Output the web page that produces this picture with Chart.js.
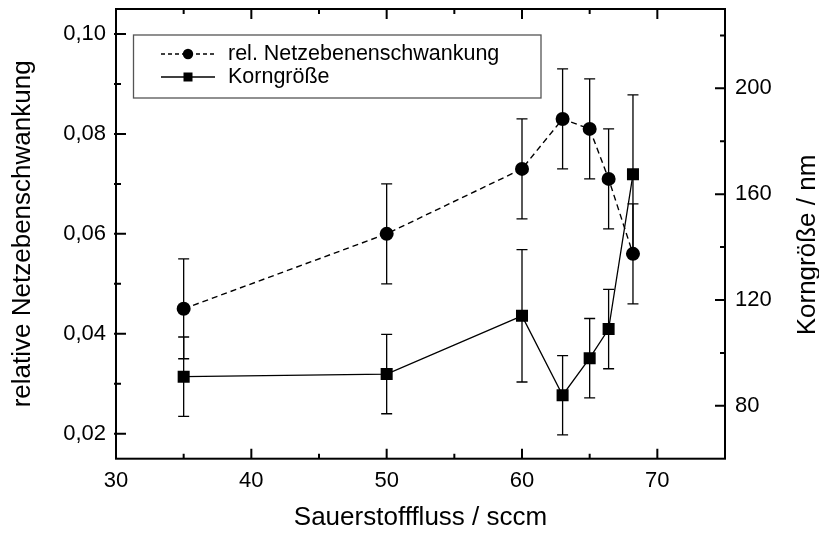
<!DOCTYPE html>
<html lang="de">
<head>
  <meta charset="UTF-8" />
  <title>Netzebenenschwankung & Korngröße</title>
  <script src="https://cdn.jsdelivr.net/npm/chart.js"></script>
  <style>
    body, html { margin: 0; padding: 0; background: #fff; }
    canvas { display: block; }
  </style>
</head>
<body>
  <canvas id="chart" width="819" height="533"></canvas>

  <script>
    // Messwerte
    const flow = [35, 50, 60, 63, 65, 66.4, 68.2];
    const strain = [0.045, 0.060, 0.073, 0.083, 0.081, 0.071, 0.056];
    const strainErr = [0.01, 0.01, 0.01, 0.01, 0.01, 0.01, 0.01];
    const grain = [91, 92, 114, 84, 98, 109, 167.5];
    const grainErr = [15, 15, 25, 15, 15, 15, 30];

    // Achsenteilung
    const xTicks = [30, 40, 50, 60, 70];
    const xMinor = [35, 45, 55, 65];
    const yTicks = [0.02, 0.04, 0.06, 0.08, 0.10];
    const yMinor = [0.03, 0.05, 0.07, 0.09];
    const y2Ticks = [80, 120, 160, 200];
    const y2Minor = [100, 140, 180, 220];

    const FONT = "'Liberation Sans', Arial, sans-serif";
    Chart.defaults.font.family = FONT;
    Chart.defaults.color = '#000';

    // Fehlerbalken unter die Symbole
    const errorBars = {
      id: 'errorBars',
      beforeDatasetsDraw(chart) {
        const { ctx, scales: { x, y, y2 } } = chart;
        ctx.save();
        ctx.strokeStyle = '#000';
        ctx.lineWidth = 1.3;
        const bar = (px, a, b) => {
          ctx.beginPath();
          ctx.moveTo(px, a); ctx.lineTo(px, b);
          ctx.moveTo(px - 5.5, a); ctx.lineTo(px + 5.5, a);
          ctx.moveTo(px - 5.5, b); ctx.lineTo(px + 5.5, b);
          ctx.stroke();
        };
        flow.forEach((f, i) => {
          const px = x.getPixelForValue(f);
          bar(px, y.getPixelForValue(strain[i] - strainErr[i]), y.getPixelForValue(strain[i] + strainErr[i]));
          bar(px, y2.getPixelForValue(grain[i] - grainErr[i]), y2.getPixelForValue(grain[i] + grainErr[i]));
        });
        ctx.restore();
      }
    };

    // Rahmen mit Innen-Ticks, Legende, rechter Achsentitel
    const frame = {
      id: 'frame',
      afterDatasetsDraw(chart) {
        const { ctx, chartArea: a, scales: { x, y, y2 } } = chart;
        ctx.save();
        ctx.strokeStyle = '#000';
        ctx.lineWidth = 2;
        ctx.strokeRect(a.left, a.top, a.right - a.left, a.bottom - a.top);

        ctx.beginPath();
        const xt = (vals, len) => vals.forEach(v => {
          const px = x.getPixelForValue(v);
          ctx.moveTo(px, a.bottom); ctx.lineTo(px, a.bottom - len);
          ctx.moveTo(px, a.top); ctx.lineTo(px, a.top + len);
        });
        xt(xTicks, 10); xt(xMinor, 5);
        const yt = (vals, len) => vals.forEach(v => {
          const py = y.getPixelForValue(v);
          ctx.moveTo(a.left - 2, py); ctx.lineTo(a.left + len, py);
        });
        yt(yTicks, 10); yt(yMinor, 5);
        const y2t = (vals, len) => vals.forEach(v => {
          const py = y2.getPixelForValue(v);
          ctx.moveTo(a.right, py); ctx.lineTo(a.right - len, py);
        });
        y2t(y2Ticks, 10); y2t(y2Minor, 5);
        ctx.stroke();

        // Legende
        const ds = chart.data.datasets;
        ctx.fillStyle = '#fff';
        ctx.fillRect(133.5, 35, 407.5, 63);
        ctx.strokeStyle = '#555';
        ctx.lineWidth = 1.3;
        ctx.strokeRect(133.5, 35, 407.5, 63);
        const rows = [54, 77];
        ctx.strokeStyle = '#000';
        ctx.fillStyle = '#000';
        rows.forEach((ry, i) => {
          ctx.beginPath();
          ctx.setLineDash(i === 0 ? [4, 3] : []);
          ctx.moveTo(161, ry); ctx.lineTo(215, ry);
          ctx.stroke();
          ctx.setLineDash([]);
          if (i === 0) {
            ctx.beginPath();
            ctx.arc(188, ry, 5.2, 0, Math.PI * 2);
            ctx.fill();
          } else {
            ctx.fillRect(183.5, ry - 4.5, 9, 9);
          }
          ctx.font = '21.5px ' + FONT;
          ctx.textBaseline = 'middle';
          ctx.textAlign = 'left';
          ctx.fillText(ds[i].label, 228, ry);
        });

        // rechter Titel, wie links von unten nach oben
        ctx.translate(815, 245);
        ctx.rotate(-Math.PI / 2);
        ctx.font = '26px ' + FONT;
        ctx.textAlign = 'center';
        ctx.textBaseline = 'alphabetic';
        ctx.fillText(chart.options.scales.y2.title.text, 0, 0);
        ctx.restore();
      }
    };

    const fixTicks = list => scale => { scale.ticks = list.map(v => ({ value: v })); };
    // feste Achsenbreite, keine Zusatzränder für Randbeschriftungen
    const fixSize = (w, h) => s => {
      if (w) s.width = w;
      if (h) s.height = h;
      s.paddingTop = 0; s.paddingBottom = 0;
      s.paddingLeft = 0; s.paddingRight = 0;
    };

    new Chart(document.getElementById('chart'), {
      type: 'scatter',
      data: {
        datasets: [
          {
            label: 'rel. Netzebenenschwankung',
            data: flow.map((f, i) => ({ x: f, y: strain[i] })),
            yAxisID: 'y',
            showLine: true,
            borderColor: '#000',
            backgroundColor: '#000',
            borderWidth: 1.4,
            borderDash: [6, 4],
            pointStyle: 'circle',
            pointRadius: 7,
            pointBorderWidth: 0
          },
          {
            label: 'Korngröße',
            data: flow.map((f, i) => ({ x: f, y: grain[i] })),
            yAxisID: 'y2',
            showLine: true,
            borderColor: '#000',
            backgroundColor: '#000',
            borderWidth: 1.3,
            pointStyle: 'rect',
            pointRadius: 8.5,
            pointBorderWidth: 0
          }
        ]
      },
      options: {
        responsive: false,
        animation: false,
        layout: { padding: { top: 9, left: 0, right: 0, bottom: 0 } },
        plugins: { legend: { display: false }, tooltip: { enabled: false } },
        scales: {
          x: {
            type: 'linear', min: 30, max: 75,
            afterBuildTicks: fixTicks(xTicks),
            afterFit: fixSize(0, 74.3),
            grid: { display: false, drawTicks: false },
            border: { display: false },
            ticks: { font: { size: 22 }, color: '#000', padding: 9, maxRotation: 0 },
            title: { display: true, text: 'Sauerstofffluss / sccm', font: { size: 26 }, color: '#000', padding: 0 }
          },
          y: {
            position: 'left', min: 0.015, max: 0.105,
            afterBuildTicks: fixTicks(yTicks),
            afterFit: fixSize(116, 0),
            grid: { display: false, drawTicks: false },
            border: { display: false },
            ticks: { font: { size: 22 }, color: '#000', padding: 10, callback: v => v.toFixed(2).replace('.', ',') },
            title: { display: true, text: 'relative Netzebenschwankung', font: { size: 26 }, color: '#000', padding: { top: 7, bottom: 0 } }
          },
          y2: {
            position: 'right', min: 60, max: 230,
            afterBuildTicks: fixTicks(y2Ticks),
            afterFit: fixSize(94, 0),
            grid: { display: false, drawTicks: false },
            border: { display: false },
            ticks: { font: { size: 22 }, color: '#000', padding: 10 },
            title: { display: false, text: 'Korngröße / nm', font: { size: 26 } }
          }
        }
      },
      plugins: [errorBars, frame]
    });
  </script>
</body>
</html>
